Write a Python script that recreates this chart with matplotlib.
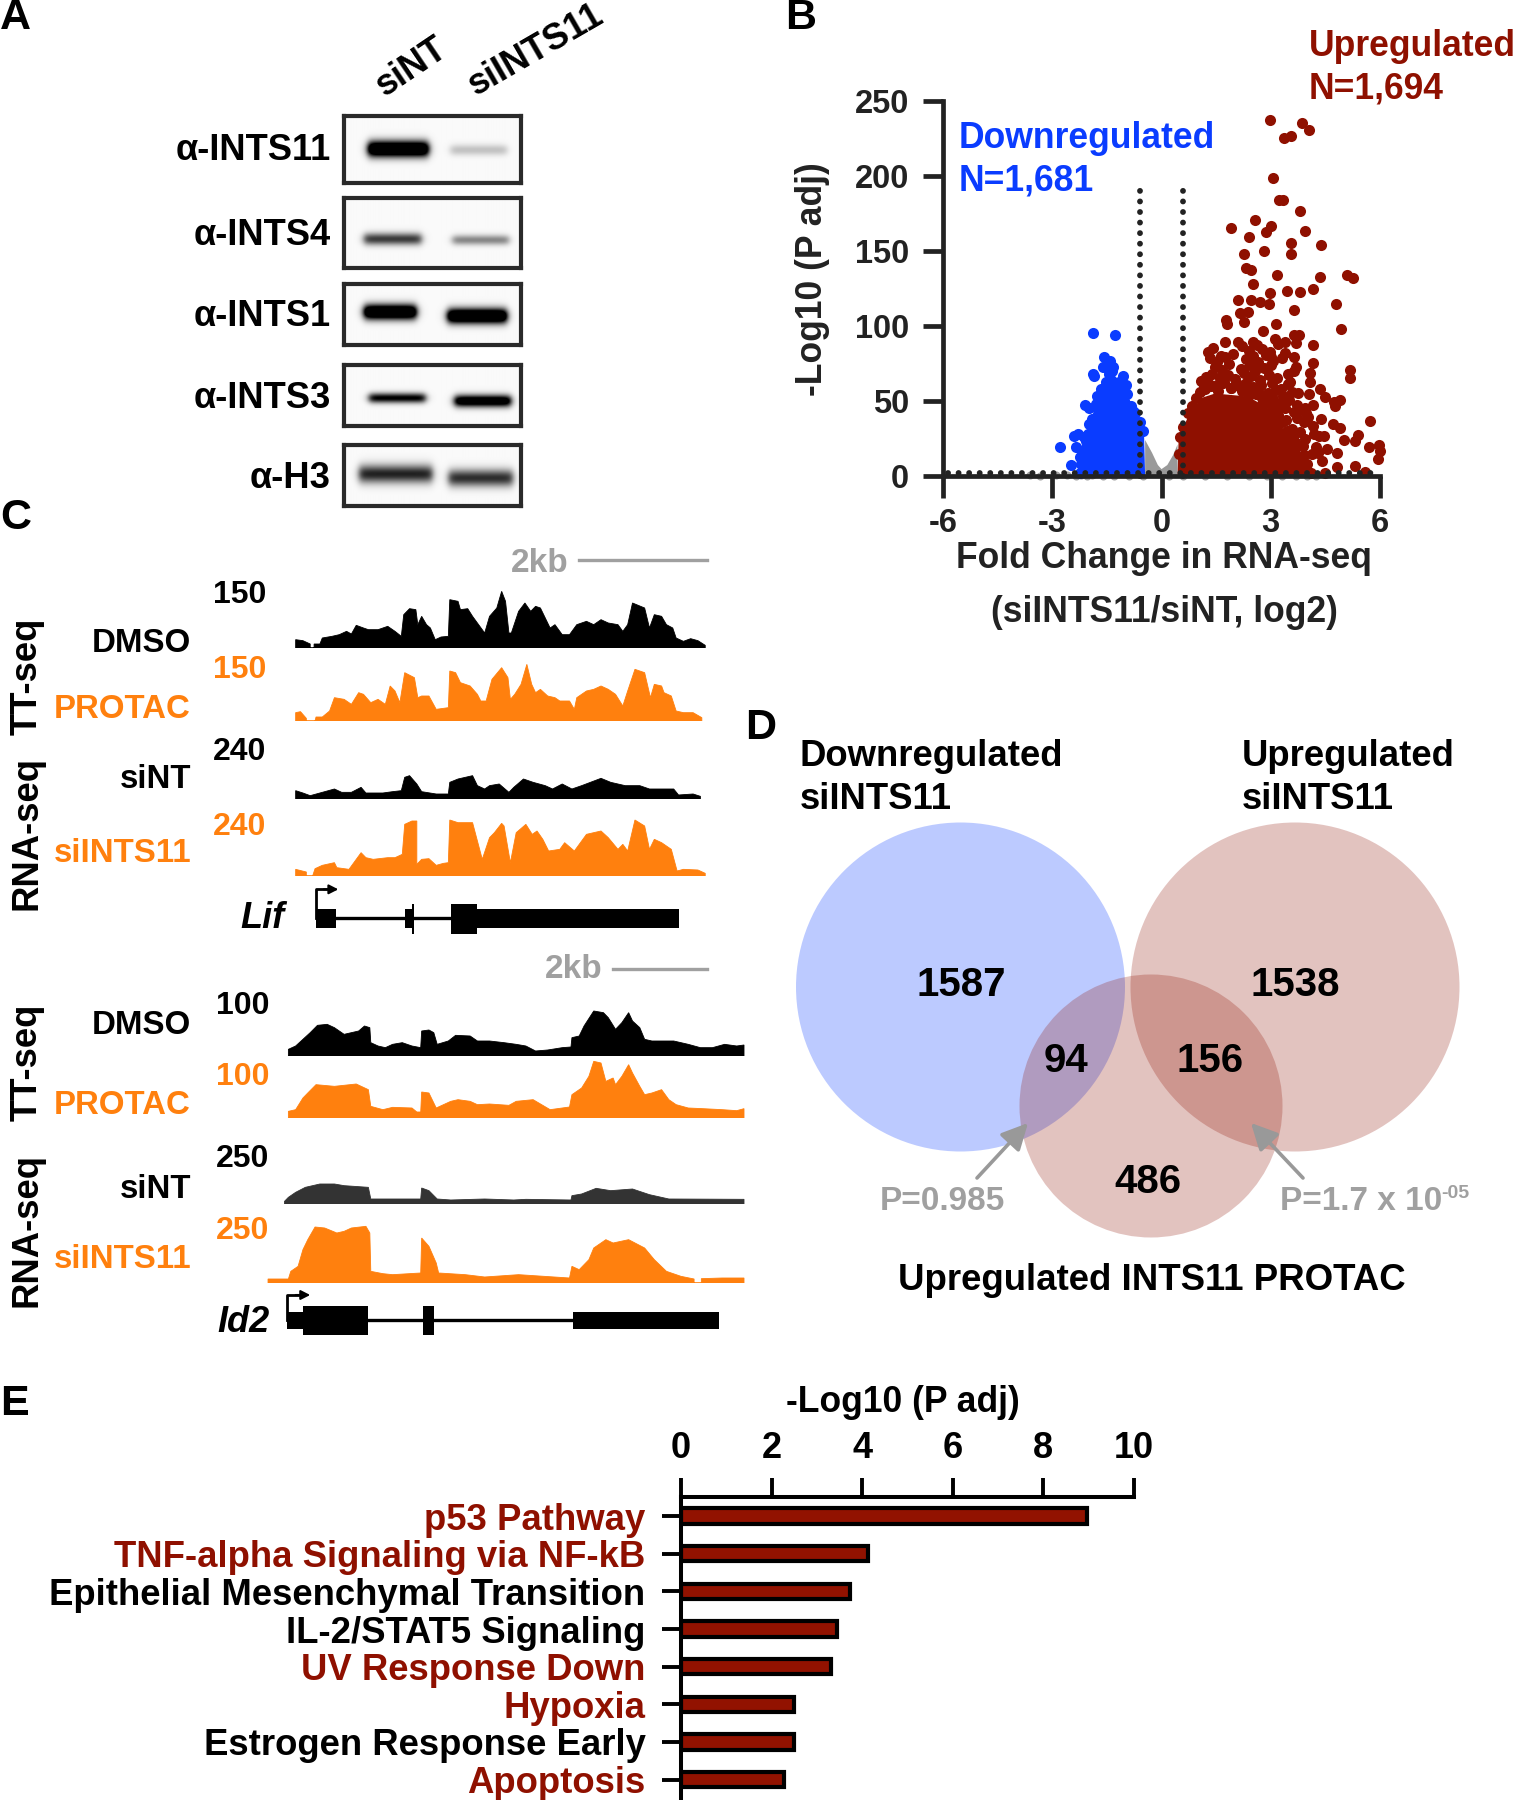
import numpy as np
import matplotlib
matplotlib.use("Agg")
import matplotlib.pyplot as plt
from matplotlib.patches import Circle

W, H = 1513, 1800
plt.rcParams['font.family'] = ['Liberation Sans', 'DejaVu Sans']
plt.rcParams['font.weight'] = 'bold'
plt.rcParams['axes.unicode_minus'] = False

BLACK = '#000000'
DARK = '#222222'
RED = '#8f1000'
BLUE = '#0a3cff'
ORANGE = '#ff800e'
GREY = '#a0a0a0'

# ---------- Panel A data ----------
blot_labels = ['α-INTS11', 'α-INTS4', 'α-INTS1', 'α-INTS3', 'α-H3']
lanes = ['siNT', 'siINTS11']
blot_top = [116, 198, 284, 365, 445]
blot_bottom = [183, 268, 345, 426, 506]
band_sint_x = [(368, 428), (364, 421), (364, 416), (369, 425), (359, 432)]
band_si11_x = [(450, 506), (452, 508), (447, 506), (454, 510), (448, 512)]
band_sint_y = [149, 239, 312, 398, 474]
band_si11_y = [150, 240, 316, 401, 478]
band_sint_thick = [8, 6, 7.5, 5, 9]
band_si11_thick = [5.5, 5, 7.5, 6, 8.5]
band_sint_dark = [1.6, 0.75, 1.6, 1.0, 0.85]
band_si11_dark = [0.22, 0.45, 1.6, 1.3, 0.8]

# ---------- Panel B data ----------
up_x = [2.99, 3.85, 4.05, 3.37, 3.55, 3.06, 3.23, 3.33, 3.81, 1.91, 2.58, 3.01, 2.86, 3.94, 2.40, 3.55, 4.39,
        2.27, 2.81, 3.56, 2.32, 2.47, 3.17, 4.35, 5.10, 5.25, 2.51, 4.15, 3.44, 3.81, 2.99, 2.96, 2.09, 2.47,
        2.70, 4.78, 3.63, 2.16, 2.37, 1.78, 1.80, 2.27, 3.14, 2.79, 4.92, 3.65, 3.78, 3.11, 3.40, 2.11, 2.50,
        4.17, 1.73, 3.68, 1.28, 2.99, 3.40, 3.65, 4.17, 3.68, 5.17, 5.17, 4.09, 4.09, 1.09, 4.36, 3.76, 4.06,
        4.49, 4.91, 4.74, 4.17, 3.94, 4.76, 5.72, 4.39, 4.70, 4.90, 5.39, 5.30, 5.00, 5.71, 5.98, 6.00, 5.94,
        4.81, 5.31, 5.58, 4.81, 4.46, 4.55, 4.30, 4.23, 4.42, 4.49, 4.10,
        1.42, 1.63, 2.22, 2.41, 2.63, 2.77, 3.02, 3.21, 1.33, 1.52, 1.74, 1.96, 2.31, 2.52, 2.66, 2.87, 3.06,
        3.31, 1.46, 1.67, 1.86, 2.19, 2.42, 2.58, 2.82, 3.01, 3.47, 3.63, 1.22, 1.39, 1.61, 1.82, 2.03, 2.27,
        2.46, 2.71, 2.94, 3.18, 3.52, 1.17, 1.31, 1.53, 1.72, 1.91, 2.12, 2.33, 2.52, 2.74, 3.03, 3.27, 3.46,
        2.41, 2.66, 2.93, 3.14, 3.33, 3.58, 2.78, 3.05, 3.25, 3.49, 3.72, 3.16, 3.38, 3.64, 3.83, 3.97, 3.42,
        3.71, 3.91, 4.02, 3.57, 3.81, 4.15, 4.33, 3.95, 4.18, 3.66, 3.88, 4.12,
        0.60, 0.72, 0.85, 0.95, 1.05, 1.20, 1.35, 1.55, 1.70, 1.90, 2.05, 2.20, 2.45, 2.60, 2.75, 2.92, 3.05,
        3.20, 3.30, 3.45, 3.60, 3.75, 3.90, 4.00, 0.52, 0.48]
up_y = [237.5, 235.6, 230.7, 225.3, 226.9, 198.4, 184, 184, 176.4, 165.5, 170.4, 166.8, 162.8, 163.3, 159.2, 155.4, 154.3,
        148.1, 150.3, 148.1, 138.6, 137.2, 134, 132.9, 134.2, 132.3, 127.7, 124.7, 123.1, 122.6, 122, 114.4, 117.1, 117.1,
        116, 114.4, 110.6, 108.4, 109.5, 103.8, 101.1, 102.4, 101.6, 97, 98.1, 93.8, 93.8, 91.6, 89.4, 89.4, 89.4,
        87.5, 89.4, 88.9, 82.9, 82.9, 81.8, 79.6, 75.3, 72.6, 70.7, 65.2, 68.5, 63, 63.6, 58.2, 55.4, 54.9,
        52.7, 50.8, 49.5, 47.6, 45.4, 46.7, 36.7, 38, 34.5, 31.8, 27.4, 23.6, 24.2, 19.3, 20.4, 16.8, 11.4,
        15.5, 6.8, 2.4, 6, 26.4, 18.2, 15.5, 19.6, 10, 1.9, 1.9,
        85.1, 80.3, 86.4, 83.2, 87.1, 84.5, 79.2, 88.2, 78.6, 76.2, 79.5, 81.3, 77.7, 79.9, 75.8, 80.6, 76.9,
        78.8, 72.4, 70.6, 74.8, 71.1, 73.9, 69.7, 72.2, 74.1, 67.8, 70.3, 66.1, 68.2, 65.4, 67.3, 64.9, 68.8,
        66.5, 63.7, 67.2, 65.6, 62.9, 59.8, 61.2, 60.4, 62.5, 58.7, 60.9, 61.8, 59.1, 60.6, 62.1, 58.2, 61.4,
        54.3, 56.8, 55.2, 57.1, 53.6, 55.9, 49.3, 51.2, 48.1, 50.4, 47.2, 43.6, 45.3, 42.7, 44.9, 41.8, 37.4,
        38.8, 36.2, 39.1, 31.6, 29.4, 33.2, 26.7, 24.8, 27.9, 22.5, 19.8, 14.6,
        33, 42, 47, 52, 56, 58, 60, 57, 62, 59, 61, 57, 59, 55, 52, 49, 45,
        41, 36, 30, 26, 20, 14, 8, 26, 15]
up_env_x = [0.44, 0.47, 0.55, 0.70, 0.89, 1.09, 1.47, 2.37, 2.88, 3.14, 3.33, 3.59, 3.85, 4.04, 4.07]
up_env_y = [0, 25, 29, 38, 45, 52, 55, 53, 46, 40, 32, 23, 15, 7.3, 0]

down_x = [-1.87, -1.29, -1.57, -1.42, -1.61, -1.33, -1.89, -1.84, -1.06, -1.52, -0.97, -1.76, -2.10, -2.00, -0.78,
          -2.00, -2.29, -2.41, -2.80, -2.35, -2.48, -2.06, -2.25, -2.25, -1.72, -1.90, -1.45, -1.18, -2.12, -2.18,
          -2.20, -2.10, -2.02, -1.90, -1.80, -1.65, -1.50, -1.35, -1.15, -0.95, -0.85, -0.72, -0.60, -0.50]
down_y = [95.1, 94, 79.3, 76.6, 73, 72.6, 67.9, 66.6, 66.6, 63, 60.9, 53.5, 47.6, 45.4, 43.2,
          34.5, 28.3, 26.9, 19.6, 19.6, 7.3, 23.6, 12.8, 1.9, 49, 37, 68, 63, 26, 17,
          8, 18, 28, 38, 48, 58, 62, 70, 62, 55, 47, 42, 36, 30]
down_env_x = [-2.25, -2.15, -2.00, -1.84, -1.74, -1.55, -1.29, -1.03, -0.84, -0.65, -0.48, -0.45]
down_env_y = [0, 15.5, 32, 45, 55, 64, 67, 60, 49, 38.6, 29, 0]

ns_env_x = [-0.45, -0.45, -0.26, -0.10, 0.00, 0.16, 0.32, 0.44, 0.44]
ns_env_y = [0, 24, 15.5, 7.3, 4.6, 7.3, 14, 21, 0]
ns_x = [-3.6, -3.35, -2.9, -2.6, -2.35, -2.2, -2.05, -1.9, -1.6, -1.3, -0.9, -0.5, 0.2, 0.6, 1.2, 1.8, 2.4, 2.9, 3.3, 3.7, 4.0, 4.25]
ns_y = [0.8, 0.2, 0.5, 0.8, 0.3, 1.0, 0.2, 0.5, 0.1, 0.3, 0.1, 0.2, 0.1, 0.1, 0.0, 0.1, 0.0, 0.1, 0.0, 0.1, 0.0, 0.2]
fc_cut = [-0.585, 0.585]
p_cut = 1.9
vol_xticks = [-6, -3, 0, 3, 6]
vol_yticks = [0, 50, 100, 150, 200, 250]

# ---------- Panel C data ----------
lif_dmso = [(610,0),(610,25),(625,22),(640,12),(640,0),(648,0),(648,12),(660,12),(665,30),(685,35),(700,40),(715,50),(725,42),(735,68),(750,60),(760,55),(780,55),(800,65),(815,50),(828,35),(833,100),(845,118),(858,115),(862,70),(870,95),(880,70),(888,60),(898,25),(910,33),(925,35),(928,145),(945,140),(950,115),(965,118),(975,95),(990,65),(1000,45),(1010,95),(1025,120),(1035,170),(1043,140),(1050,45),(1055,45),(1070,110),(1083,135),(1095,110),(1105,125),(1115,120),(1125,90),(1135,60),(1145,70),(1160,40),(1175,40),(1190,70),(1210,80),(1225,70),(1240,85),(1255,75),(1275,70),(1285,50),(1295,70),(1305,135),(1330,120),(1340,60),(1350,100),(1365,95),(1375,70),(1388,60),(1395,30),(1410,20),(1425,28),(1440,22),(1455,8),(1455,0)]
lif_protac = [(610,0),(610,25),(620,28),(632,8),(632,0),(650,0),(652,12),(665,12),(680,30),(690,70),(710,65),(725,50),(740,85),(750,80),(765,55),(780,65),(795,50),(805,105),(815,90),(825,55),(835,145),(855,130),(862,70),(870,75),(885,75),(900,35),(925,40),(928,150),(940,145),(950,115),(970,105),(985,80),(992,60),(1003,60),(1015,125),(1035,160),(1048,130),(1053,65),(1062,80),(1075,110),(1087,170),(1097,110),(1105,85),(1115,95),(1130,75),(1145,70),(1155,60),(1175,60),(1185,35),(1190,70),(1210,90),(1225,95),(1240,105),(1255,95),(1270,80),(1285,45),(1295,90),(1310,155),(1330,145),(1342,70),(1350,110),(1365,105),(1370,85),(1385,75),(1395,30),(1410,25),(1430,25),(1448,10),(1448,0)]
lif_sint = [(610,0),(610,25),(625,18),(640,10),(660,18),(690,30),(705,20),(725,20),(745,35),(755,18),(790,18),(810,22),(828,25),(835,65),(845,70),(860,45),(870,22),(900,15),(925,15),(928,50),(945,60),(975,70),(985,40),(1000,30),(1010,40),(1030,45),(1050,20),(1060,35),(1080,60),(1100,50),(1125,40),(1140,30),(1160,45),(1180,30),(1200,40),(1240,62),(1260,50),(1290,40),(1320,40),(1340,30),(1390,30),(1400,12),(1430,15),(1445,8),(1445,0)]
lif_si11 = [(610,0),(610,20),(632,12),(632,0),(645,0),(650,22),(665,32),(690,40),(695,25),(720,20),(735,50),(745,70),(755,55),(770,50),(800,55),(815,55),(830,65),(835,155),(850,165),(860,165),(860,35),(870,50),(885,52),(900,32),(915,38),(925,40),(928,168),(945,160),(975,160),(995,50),(1010,115),(1020,130),(1035,158),(1040,150),(1053,40),(1065,130),(1085,155),(1098,125),(1108,135),(1120,110),(1132,75),(1155,80),(1165,100),(1185,75),(1210,125),(1240,135),(1255,115),(1275,80),(1285,95),(1295,75),(1310,168),(1330,150),(1340,80),(1350,110),(1365,100),(1385,80),(1397,15),(1410,20),(1440,18),(1455,8),(1455,0)]
id2_dmso = [(595,0),(595,20),(610,30),(625,50),(640,70),(655,92),(675,95),(690,85),(710,65),(725,70),(740,75),(752,90),(763,85),(765,40),(780,30),(795,25),(810,35),(830,40),(850,30),(868,25),(870,75),(885,78),(895,70),(902,35),(925,45),(940,62),(970,60),(985,45),(1010,45),(1040,40),(1065,35),(1085,30),(1105,15),(1130,18),(1160,25),(1178,27),(1180,55),(1195,60),(1205,90),(1225,135),(1245,130),(1255,115),(1270,80),(1283,100),(1297,130),(1305,105),(1320,85),(1330,50),(1345,45),(1390,45),(1420,35),(1445,25),(1470,25),(1495,35),(1520,30),(1535,33),(1535,0)]
id2_protac = [(595,0),(595,20),(610,25),(625,60),(635,75),(652,100),(690,95),(735,102),(760,85),(765,35),(790,25),(810,32),(850,30),(860,18),(868,18),(870,78),(885,75),(900,30),(930,50),(945,55),(970,50),(985,40),(1010,42),(1050,38),(1065,50),(1100,55),(1135,25),(1175,33),(1180,70),(1200,90),(1215,125),(1225,170),(1240,165),(1250,110),(1265,120),(1270,100),(1283,125),(1297,160),(1305,135),(1320,95),(1330,70),(1345,75),(1365,85),(1380,55),(1395,40),(1420,30),(1450,28),(1490,25),(1520,22),(1535,28),(1535,0)]
id2_sint = [(587,0),(587,8),(595,20),(610,35),(630,50),(660,60),(690,60),(710,55),(760,50),(765,15),(815,15),(868,15),(870,48),(885,40),(902,15),(930,12),(1000,15),(1060,12),(1085,14),(1178,12),(1180,25),(1200,30),(1230,47),(1260,40),(1305,45),(1340,28),(1380,15),(1535,14),(1535,0)]
id2_si11 = [(553,0),(553,12),(595,12),(600,35),(615,50),(625,100),(635,130),(650,168),(670,165),(695,150),(710,155),(725,165),(755,170),(763,150),(765,35),(790,28),(810,25),(868,30),(870,135),(885,110),(900,60),(905,30),(960,25),(1000,18),(1070,25),(1175,15),(1180,50),(1195,40),(1215,70),(1225,105),(1250,130),(1265,120),(1297,130),(1330,105),(1350,70),(1375,35),(1405,20),(1432,12),(1432,0),(1447,0),(1447,13),(1490,15),(1535,15),(1535,0)]
track_baselines = [647, 720, 798, 875, 1055, 1117, 1203, 1282]
track_scale_lif = ['150', '150', '240', '240']
track_scale_id2 = ['100', '100', '250', '250']

lif_exon_start = [652, 835, 849, 930, 985]
lif_exon_end = [694, 855, 855, 985, 1400]
lif_exon_top = [1168, 1168, 1152, 1152, 1168]
lif_exon_bot = [1224, 1224, 1242, 1242, 1224]
id2_exon_start = [593, 625, 872, 1182]
id2_exon_end = [625, 760, 895, 1483]
id2_exon_top = [1147, 1127, 1127, 1147]
id2_exon_bot = [1198, 1216, 1216, 1198]

# ---------- Panel D data ----------
venn_counts = ['1587', '1538', '94', '156', '486']
venn_sets = ['Downregulated\nsiINTS11', 'Upregulated\nsiINTS11', 'Upregulated INTS11 PROTAC']
venn_p = ['P=0.985', 'P=1.7 x 10']

# ---------- Panel E data ----------
pathways = ['p53 Pathway', 'TNF-alpha Signaling via NF-kB', 'Epithelial Mesenchymal Transition',
            'IL-2/STAT5 Signaling', 'UV Response Down', 'Hypoxia', 'Estrogen Response Early', 'Apoptosis']
pathway_val = [8.97, 4.12, 3.74, 3.45, 3.32, 2.49, 2.49, 2.28]
pathway_red = [True, True, False, False, True, True, False, True]
path_ticks = [0, 2, 4, 6, 8, 10]

# ---------- helpers ----------
fig = plt.figure(figsize=(W / 100, H / 100), dpi=100, facecolor='white')


def axpx(x0, y0, x1, y1, **kw):
    return fig.add_axes([x0 / W, 1 - y1 / H, (x1 - x0) / W, (y1 - y0) / H], **kw)


ov = axpx(0, 0, W, H, zorder=20)
ov.set_xlim(0, W)
ov.set_ylim(H, 0)
ov.axis('off')
ov.patch.set_alpha(0)


def txt(x, y, s, size=25.6, color=BLACK, ha='left', va='center', **kw):
    dy = 3 if (va == 'center' and 'rotation' not in kw) else 0
    return ov.text(x, y + dy, s, fontsize=size, color=color, ha=ha, va=va, fontweight='bold', **kw)


for s, x, y in [('A', 0, 15), ('B', 785, 15), ('C', 0, 515), ('D', 745, 725), ('E', 0, 1401)]:
    txt(x, y, s, size=31)

# ---------- Panel A ----------
BX0, BX1 = 344, 521
for i, lab in enumerate(blot_labels):
    t, b = blot_top[i], blot_bottom[i]
    ax = axpx(BX0, t, BX1, b)
    xs = np.arange(BX0, BX1) + 0.5
    ys = np.arange(t, b) + 0.5
    X, Y = np.meshgrid(xs, ys)
    D = np.zeros_like(X) + 0.02
    for (x0, x1), yc, th, dk in [(band_sint_x[i], band_sint_y[i], band_sint_thick[i], band_sint_dark[i]),
                                 (band_si11_x[i], band_si11_y[i], band_si11_thick[i], band_si11_dark[i])]:
        D += dk * 0.5 * (np.tanh((X - x0) / 4) - np.tanh((X - x1) / 4)) * np.exp(-((Y - yc) / th) ** 2)
    ax.imshow(1 - np.clip(D, 0, 1), cmap='gray', vmin=0, vmax=1, aspect='auto', interpolation='bilinear',
              extent=(BX0, BX1, b, t))
    ax.set_xticks([])
    ax.set_yticks([])
    for sp in ax.spines.values():
        sp.set_linewidth(3)
        sp.set_color('#2a2a2a')
    txt(331, (t + b) / 2 - 0.5 if i else 148, lab, size=26.2, ha='right')
txt(385, 97, lanes[0], size=26, rotation=34, rotation_mode='anchor', va='baseline')
txt(476, 96, lanes[1], size=26, rotation=30, rotation_mode='anchor', va='baseline')

# ---------- Panel B ----------
ax = axpx(943, 101, 1380, 476)
ax.patch.set_alpha(0)
ax.set_xlim(-6, 6)
ax.set_ylim(0, 250)
dot_s = 64
ax.fill(ns_env_x, ns_env_y, color='#999999', lw=0, clip_on=False, zorder=1)
ax.scatter(ns_x, ns_y, s=34, color='#a5a5a5', lw=0, clip_on=False, zorder=1)
ax.fill(down_env_x, down_env_y, color=BLUE, lw=0, zorder=2)
ax.scatter(down_x, down_y, s=dot_s, color=BLUE, lw=0, clip_on=False, zorder=2)
ax.fill(up_env_x, up_env_y, color=RED, lw=0, zorder=2)
ax.scatter(up_x, up_y, s=dot_s, color=RED, lw=0, clip_on=False, zorder=2)
dots = (0, (0.01, 1.8))
for c in fc_cut:
    ax.plot([c, c], [0, 197], color=DARK, lw=4.2, ls=dots, dash_capstyle='round', zorder=4, clip_on=False)
ax.plot([-5.85, 6], [p_cut, p_cut], color=DARK, lw=4.2, ls=dots, dash_capstyle='round', zorder=4, clip_on=False)
for k in ['top', 'right']:
    ax.spines[k].set_visible(False)
for k in ['left', 'bottom']:
    ax.spines[k].set_linewidth(3.4)
    ax.spines[k].set_color(DARK)
ax.set_xticks(vol_xticks)
ax.set_yticks(vol_yticks)
ax.tick_params(axis='x', length=16, width=3.4, color=DARK, labelsize=23.5, labelcolor=DARK, pad=7)
ax.tick_params(axis='y', length=14.5, width=3.4, color=DARK, labelsize=23.5, labelcolor=DARK, pad=10)
for t in ax.get_xticklabels() + ax.get_yticklabels():
    t.set_fontweight('bold')
txt(813, 279, '-Log10 (P adj)', color=DARK, rotation=90, ha='center')
txt(1164, 556, 'Fold Change in RNA-seq', color=DARK, ha='center')
txt(1164, 609, '(siINTS11/siNT, log2)', color=DARK, ha='center')
txt(959, 135, 'Downregulated', color=BLUE)
txt(959, 178, 'N=1,681', color=BLUE)
txt(1309, 43, 'Upregulated', color=RED)
txt(1309, 86.5, 'N=1,694', color=RED)

# ---------- Panel C ----------
all_tracks = [lif_dmso, lif_protac, lif_sint, lif_si11, id2_dmso, id2_protac, id2_sint, id2_si11]
track_cols = [BLACK, ORANGE, BLACK, ORANGE, BLACK, ORANGE, '#333333', ORANGE]
for prof, base, col in zip(all_tracks, track_baselines, track_cols):
    ax = axpx(0, base - 65, 760, base + 1)
    ax.axis('off')
    ax.patch.set_alpha(0)
    ax.set_xlim(0, 1568)
    ax.set_ylim(0, 198)
    ax.fill([p[0] for p in prof], [p[1] for p in prof], color=col, lw=0.6)

for tx, ty, s, c in [(266, 592, track_scale_lif[0], BLACK), (266, 667, track_scale_lif[1], ORANGE),
                     (266, 749, track_scale_lif[2], BLACK), (266, 824, track_scale_lif[3], ORANGE),
                     (269, 1003, track_scale_id2[0], BLACK), (269, 1074, track_scale_id2[1], ORANGE),
                     (269, 1156, track_scale_id2[2], BLACK), (269, 1228, track_scale_id2[3], ORANGE)]:
    txt(tx, ty, s, size=23, color=c, ha='right')
for ty, s, c in [(641, 'DMSO', BLACK), (706, 'PROTAC', ORANGE), (776, 'siNT', BLACK), (850, 'siINTS11', ORANGE),
                 (1023, 'DMSO', BLACK), (1102, 'PROTAC', ORANGE), (1186, 'siNT', BLACK), (1257, 'siINTS11', ORANGE)]:
    txt(191, ty, s, size=23.8, color=c, ha='right')
for ty, s in [(676, 'TT-seq'), (833, 'RNA-seq'), (1062, 'TT-seq'), (1230, 'RNA-seq')]:
    txt(27, ty, s, size=26.3, rotation=90, ha='center')
txt(569, 560, '2kb', size=24, color=GREY, ha='right')
ov.plot([579, 707], [560, 560], color=GREY, lw=2.4)
txt(603, 966, '2kb', size=24, color=GREY, ha='right')
ov.plot([613, 707], [969, 969], color=GREY, lw=2.4)


def gene(origin, starts, ends, tops, bots, intron_y, arrow_x, arrow_top, arrow_end):
    ax = axpx(0, origin, 760, origin + 420)
    ax.axis('off')
    ax.patch.set_alpha(0)
    ax.set_xlim(0, 1568)
    ax.set_ylim(1260, 0)
    ax.bar(starts, np.subtract(bots, tops), width=np.subtract(ends, starts), bottom=tops, align='edge', color=BLACK, lw=0)
    ax.plot([starts[0], ends[-1] - 5], [intron_y, intron_y], color=BLACK, lw=2.4, zorder=1, solid_capstyle='butt')
    ax.plot([arrow_x, arrow_x, arrow_end - 25], [intron_y, arrow_top, arrow_top], color=BLACK, lw=2)
    ax.annotate('', xy=(arrow_end, arrow_top), xytext=(arrow_end - 30, arrow_top),
                arrowprops=dict(arrowstyle='-|>,head_length=0.55,head_width=0.28', color=BLACK, lw=1.5, shrinkA=0, shrinkB=0))


gene(520, lif_exon_start, lif_exon_end, lif_exon_top, lif_exon_bot, 1195, 652, 1108, 698)
gene(930, id2_exon_start, id2_exon_end, id2_exon_top, id2_exon_bot, 1170, 593, 1095, 640)
txt(284, 915, 'Lif', size=26, ha='right', style='italic')
txt(270, 1319, 'Id2', size=26, ha='right', style='italic')

# ---------- Panel D ----------
RC = (0x8f / 255, 0x10 / 255, 0)
ov.add_patch(Circle((960.5, 987), 164.5, color=BLUE, alpha=0.27, lw=0))
ov.add_patch(Circle((1295, 987), 164.5, color=RC, alpha=0.25, lw=0))
ov.add_patch(Circle((1151, 1106), 131.5, color=RC, alpha=0.25, lw=0))
for (x, y), s in zip([(961, 982), (1295.5, 982), (1066, 1057.5), (1210, 1057.5), (1148, 1179)], venn_counts):
    txt(x, y, s, size=29, ha='center')
txt(800, 754, venn_sets[0].split('\n')[0], size=26.3)
txt(800, 796.5, venn_sets[0].split('\n')[1], size=26.3)
txt(1242, 754, venn_sets[1].split('\n')[0], size=26.3)
txt(1242, 796.5, venn_sets[1].split('\n')[1], size=26.3)
txt(1151.5, 1277, venn_sets[2], size=26.4, ha='center')
txt(942.5, 1198, venn_p[0], size=24, color=GREY, ha='center')
txt(1280, 1198, venn_p[1], size=24, color=GREY)
txt(1441, 1191, '-05', size=14, color=GREY)
for tail, tip in [((977, 1178), (1028, 1123)), ((1303, 1178), (1251, 1123))]:
    ov.annotate('', xy=tip, xytext=tail,
                arrowprops=dict(arrowstyle='-|>,head_length=1.6,head_width=0.8', color='#999999', lw=2.6,
                                shrinkA=0, shrinkB=0))

# ---------- Panel E ----------
ax = axpx(681, 1497, 1134, 1800)
ax.patch.set_alpha(0)
ax.set_xlim(0, 10)
ax.set_ylim(7.54, -0.505)
ax.barh(range(len(pathways)), pathway_val, height=0.41, color='#921200', edgecolor=BLACK, lw=3)
ax.xaxis.tick_top()
ax.set_xticks(path_ticks)
ax.set_yticks(range(len(pathways)))
ax.set_yticklabels(pathways)
ax.tick_params(axis='x', length=13.5, width=2.8, labelsize=26, pad=9, color=BLACK)
ax.tick_params(axis='y', length=13.5, width=2.8, labelsize=26.3, pad=12, color=BLACK)
for t, red in zip(ax.get_yticklabels(), pathway_red):
    t.set_color(RED if red else BLACK)
    t.set_fontweight('bold')
for t in ax.get_xticklabels():
    t.set_fontweight('bold')
for k in ['right', 'bottom']:
    ax.spines[k].set_visible(False)
for k in ['left', 'top']:
    ax.spines[k].set_linewidth(2.9)
txt(903, 1400, '-Log10 (P adj)', ha='center')

fig.savefig('out.png', dpi=100)
